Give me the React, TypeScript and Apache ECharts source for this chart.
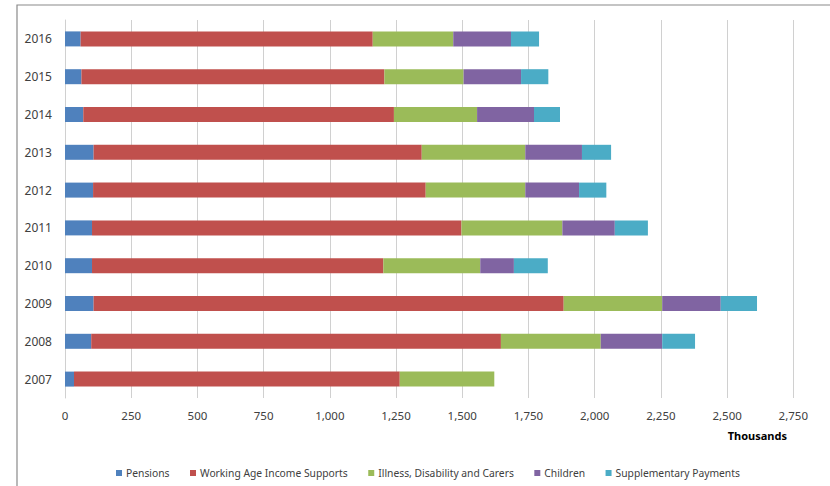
import React, { useEffect, useRef } from "react";
import * as echarts from "echarts";

const years = ["2007", "2008", "2009", "2010", "2011", "2012", "2013", "2014", "2015", "2016"];
const seriesNames = [
  "Pensions",
  "Working Age Income Supports",
  "Illness, Disability and Carers",
  "Children",
  "Supplementary Payments",
];
const pensions = [34, 99, 108, 102, 102, 106, 108, 69, 62, 59];
const workingAge = [1230, 1547, 1775, 1100, 1395, 1256, 1239, 1173, 1144, 1103];
const illness = [357, 377, 372, 366, 381, 376, 391, 314, 299, 304];
const children = [null, 232, 221, 127, 198, 203, 214, 215, 217, 218];
const supplementary = [null, 124, 137, 128, 125, 103, 110, 98, 103, 106];
const colors = ["#4F81BD", "#C0504D", "#9BBB59", "#8064A2", "#4BACC6"];
const xTicks = { min: 0, max: 2750, interval: 250 };
const unitLabel = "Thousands";

const FONT = "'Noto Sans', sans-serif";

export default function App() {
  const ref = useRef<HTMLDivElement>(null);
  useEffect(() => {
    document.body.style.margin = "0";
    const chart = echarts.init(ref.current!, undefined, { renderer: "svg" });
    const values = [pensions, workingAge, illness, children, supplementary];
    chart.setOption({
      animation: false,
      backgroundColor: "#ffffff",
      textStyle: { fontFamily: FONT },
      grid: { left: 65, right: 36.7, top: 20, bottom: 88, containLabel: false },
      legend: {
        top: 463,
        left: 111,
        itemWidth: 6,
        itemHeight: 6,
        itemGap: 20.5,
        icon: "rect",
        textStyle: { fontSize: 10.3, color: "#404040", fontFamily: FONT, padding: [0, 0, 0, -1] },
        data: seriesNames,
      },
      xAxis: {
        type: "value",
        min: xTicks.min,
        max: xTicks.max,
        interval: xTicks.interval,
        axisLine: { show: false },
        axisTick: { show: false },
        splitLine: { show: true, lineStyle: { color: "#d0d0d0", width: 1 } },
        axisLabel: {
          color: "#404040",
          fontSize: 11.5,
          margin: 11,
          fontFamily: FONT,
          formatter: (v: number) => v.toLocaleString("en-US"),
        },
      },
      yAxis: {
        type: "category",
        data: years,
        axisLine: { show: true, lineStyle: { color: "#d0d0d0", width: 1 } },
        axisTick: { show: false },
        axisLabel: { color: "#404040", fontSize: 12, margin: 13, fontFamily: FONT },
      },
      graphic: [
        {
          type: "rect",
          shape: { x: 17, y: 5, width: 830, height: 520 },
          style: { fill: "none", stroke: "#8a8a8a", lineWidth: 1.2 },
          silent: true,
        },
        {
          type: "text",
          x: 787,
          y: 435,
          style: {
            text: unitLabel,
            font: `bold 11px ${FONT}`,
            fill: "#000000",
            textAlign: "right",
            textVerticalAlign: "middle",
          },
        },
      ],
      series: seriesNames.map((name, i) => ({
        name,
        type: "bar",
        stack: "total",
        barWidth: 15,
        data: values[i],
        itemStyle: { color: colors[i] },
      })),
    });
    return () => chart.dispose();
  }, []);
  return <div ref={ref} style={{ width: 830, height: 486 }} />;
}
